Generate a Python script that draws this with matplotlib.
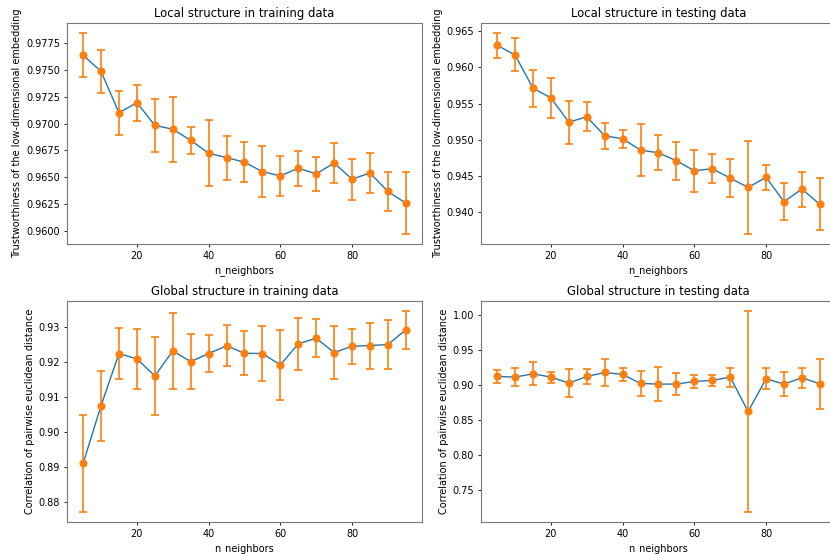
import matplotlib
matplotlib.use("Agg")
import matplotlib.pyplot as plt

# shrink everything, the original was a bigger figure scaled down
s = 0.70
plt.rcParams['font.size'] = 10 * s
plt.rcParams['axes.titlesize'] = 12 * s
plt.rcParams['axes.titlepad'] = 6 * s
plt.rcParams['axes.labelpad'] = 4 * s
plt.rcParams['axes.linewidth'] = 0.8
plt.rcParams['axes.edgecolor'] = '#777777'
plt.rcParams['xtick.major.size'] = 3.5 * s
plt.rcParams['ytick.major.size'] = 3.5 * s
plt.rcParams['xtick.major.pad'] = 3.5 * s
plt.rcParams['ytick.major.pad'] = 3.5 * s
plt.rcParams['xtick.major.width'] = 0.6
plt.rcParams['ytick.major.width'] = 0.6

n_neighbors = [5, 10, 15, 20, 25, 30, 35, 40, 45, 50, 55, 60, 65, 70, 75, 80, 85, 90, 95]

trust_train = [0.97641, 0.97488, 0.97102, 0.97196, 0.96984, 0.96947, 0.96844, 0.96723, 0.96682, 0.96639,
               0.96551, 0.96511, 0.96583, 0.96530, 0.96632, 0.96480, 0.96539, 0.96365, 0.96256]
trust_train_err = [0.00207, 0.00201, 0.00205, 0.00167, 0.00248, 0.00303, 0.00128, 0.00311, 0.00206, 0.00187,
                   0.00237, 0.00185, 0.00163, 0.00162, 0.00187, 0.00191, 0.00190, 0.00179, 0.00288]

trust_test = [0.96303, 0.96170, 0.95711, 0.95578, 0.95243, 0.95317, 0.95055, 0.95014, 0.94858, 0.94821,
              0.94711, 0.94573, 0.94601, 0.94472, 0.94344, 0.94482, 0.94147, 0.94321, 0.94110]
trust_test_err = [0.00170, 0.00227, 0.00257, 0.00280, 0.00296, 0.00200, 0.00181, 0.00122, 0.00358, 0.00239,
                  0.00261, 0.00289, 0.00198, 0.00262, 0.00642, 0.00174, 0.00253, 0.00241, 0.00358]

corr_train = [0.89099, 0.90753, 0.92245, 0.92092, 0.91604, 0.92321, 0.92015, 0.92245, 0.92465, 0.92254,
              0.92245, 0.91920, 0.92522, 0.92685, 0.92273, 0.92455, 0.92474, 0.92503, 0.92924]
corr_train_err = [0.0139, 0.0100, 0.0072, 0.0086, 0.0112, 0.0108, 0.0079, 0.0054, 0.0059, 0.0063,
                  0.0080, 0.0100, 0.0074, 0.0054, 0.0075, 0.0050, 0.0066, 0.0071, 0.0054]

corr_test = [0.9119, 0.9110, 0.9157, 0.9110, 0.9024, 0.9119, 0.9176, 0.9148, 0.9019, 0.9010,
             0.9010, 0.9048, 0.9062, 0.9110, 0.8619, 0.9086, 0.9010, 0.9100, 0.9014]
corr_test_err = [0.0098, 0.0129, 0.0167, 0.0079, 0.0205, 0.0112, 0.0190, 0.0093, 0.0178, 0.0240,
                 0.0157, 0.0093, 0.0076, 0.0136, 0.1436, 0.0148, 0.0169, 0.0145, 0.0357]

panels = [
    (trust_train, trust_train_err, "Local structure in training data", "Trustworthiness of the low-dimensional embedding"),
    (trust_test, trust_test_err, "Local structure in testing data", "Trustworthiness of the low-dimensional embedding"),
    (corr_train, corr_train_err, "Global structure in training data", "Correlation of pairwise euclidean distance"),
    (corr_test, corr_test_err, "Global structure in testing data", "Correlation of pairwise euclidean distance"),
]

# axes boxes in figure fractions, right column runs a bit past the edge (cropped original)
boxes = [
    [0.0807, 0.5596, 0.4277, 0.399],
    [0.5795, 0.5596, 0.4277, 0.399],
    [0.0807, 0.0578, 0.4277, 0.399],
    [0.5795, 0.0578, 0.4277, 0.399],
]

fig = plt.figure(figsize=(8.3, 5.54), dpi=100)

for (vals, errs, title, ylabel), box in zip(panels, boxes):
    ax = fig.add_axes(box)
    ax.plot(n_neighbors, vals, color='C0', lw=1.0)
    ax.errorbar(n_neighbors, vals, yerr=errs, fmt='o', color='C1',
                markersize=4.8, capsize=3, elinewidth=1.2, capthick=1.2)
    ax.set_title(title)
    ax.set_xlabel("n_neighbors")
    ax.set_ylabel(ylabel)
    ax.set_xticks([20, 40, 60, 80])

fig.savefig("out.png", dpi=100)
